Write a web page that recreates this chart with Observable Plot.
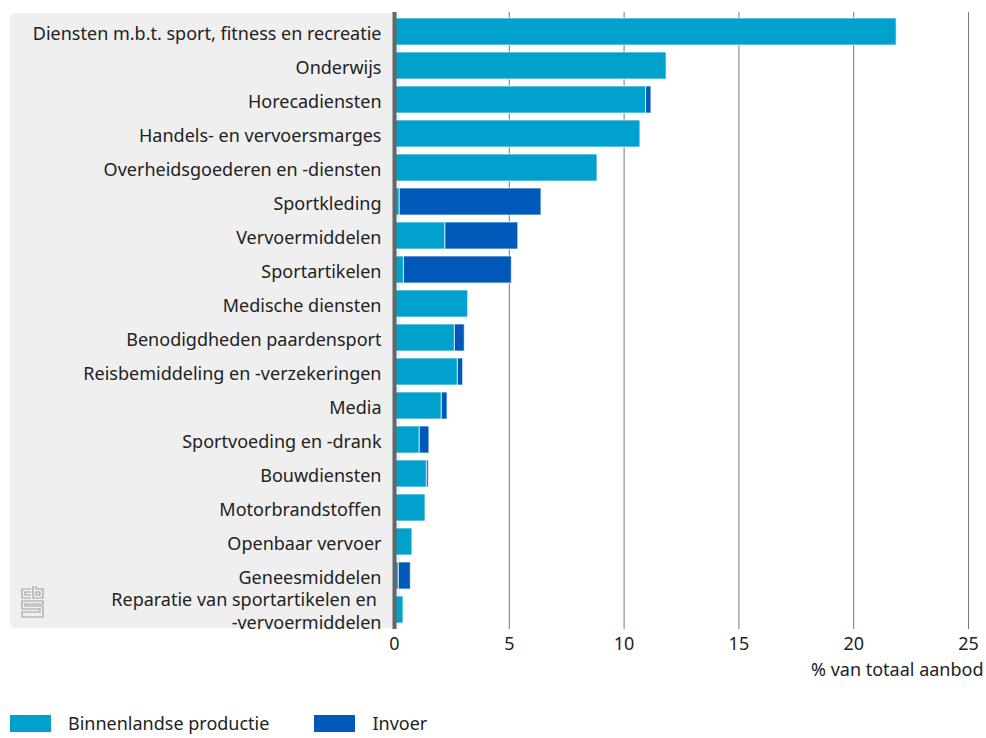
<!DOCTYPE html>
<html><head><meta charset="utf-8">
<script src="https://cdn.jsdelivr.net/npm/d3@7"></script>
<script src="https://cdn.jsdelivr.net/npm/@observablehq/plot@0.6"></script>
<style>
body{margin:0;background:#fff;font-family:"Noto Sans", sans-serif;color:#222;}
#chart{position:relative;width:986px;}
.legend{display:flex;align-items:center;margin-top:22px;font-size:18px;line-height:22px;}
.legend .sw{width:41px;height:17px;margin-left:10px;margin-right:17px;}
.legend .item{display:flex;align-items:center;}
</style></head>
<body>
<div id="chart"></div>
<div class="legend" id="legend"></div>
<script>
const categories = [
  "Diensten m.b.t. sport, fitness en recreatie",
  "Onderwijs",
  "Horecadiensten",
  "Handels- en vervoersmarges",
  "Overheidsgoederen en -diensten",
  "Sportkleding",
  "Vervoermiddelen",
  "Sportartikelen",
  "Medische diensten",
  "Benodigdheden paardensport",
  "Reisbemiddeling en -verzekeringen",
  "Media",
  "Sportvoeding en -drank",
  "Bouwdiensten",
  "Motorbrandstoffen",
  "Openbaar vervoer",
  "Geneesmiddelen",
  "Reparatie van sportartikelen en \n-vervoermiddelen"
];
const binnenlands = [21.87, 11.85, 10.96, 10.71, 8.84, 0.23, 2.22, 0.41, 3.21, 2.63, 2.76, 2.06, 1.10, 1.41, 1.35, 0.78, 0.19, 0.39];
const invoer      = [0,     0,     0.23,  0,     0,    6.17, 3.17, 4.70, 0,    0.43, 0.23, 0.25, 0.42, 0.08, 0,    0,    0.52, 0];
const seriesNames = ["Binnenlandse productie", "Invoer"];
const seriesColors = ["#00a1cd", "#0058b8"];
const xTicks = [0, 5, 10, 15, 20, 25];

const data = categories.flatMap((c, i) => [
  {cat: c, serie: seriesNames[0], v: binnenlands[i]},
  {cat: c, serie: seriesNames[1], v: invoer[i]}
]);

const chart = Plot.plot({
  width: 986, height: 690,
  marginLeft: 394, marginRight: 18, marginTop: 12, marginBottom: 61,
  style: {fontFamily: "'Noto Sans', sans-serif", fontSize: "18px", color: "#222", background: "transparent"},
  x: {domain: [0, 25]},
  y: {domain: categories, paddingInner: 0.21, paddingOuter: 0.06},
  color: {domain: seriesNames, range: seriesColors},
  marks: [
    Plot.gridX(xTicks.slice(1), {stroke: "#777", strokeOpacity: 1, strokeWidth: 1}),
    Plot.barX(data, {y: "cat", x: "v", fill: "serie", stroke: "white", strokeWidth: 1, strokeOpacity: 0.7, order: seriesNames}),
    Plot.ruleX([0], {stroke: "#666", strokeWidth: 4}),
    Plot.axisY({tickSize: 0, tickPadding: 13, label: null, lineHeight: 1.3, fontSize: 18}),
    Plot.axisX({ticks: xTicks, tickSize: 0, tickPadding: 8, label: "% van totaal aanbod", labelAnchor: "right", labelArrow: "none", labelOffset: 46, fontSize: 18})
  ]
});

// gray label panel behind the chart
const svg = d3.select(chart);
svg.insert("rect", ":first-child")
  .attr("x", 10).attr("y", 13).attr("width", 390).attr("height", 615)
  .attr("rx", 5).attr("fill", "#efefef");

// small logo in the panel
const logo = svg.insert("g", ":nth-child(2)")
  .attr("fill", "none").attr("stroke", "#a0a0a0").attr("stroke-width", 1.2);
[
  "M31,589H22V598H31", "M31,592H25V595H31",
  "M33,586V598H43V589H36", "M36,586V589", "M36,592H40V595H36Z",
  "M43,601H22V609H40V612H22V617H43V606H25V604H43Z"
].forEach(d => logo.append("path").attr("d", d));

document.getElementById("chart").appendChild(chart);

const leg = d3.select("#legend");
seriesNames.forEach((n, i) => {
  const it = leg.append("div").attr("class", "item");
  it.append("div").attr("class", "sw").style("background", seriesColors[i]);
  it.append("span").text(n).style("margin-right", i === 0 ? "35px" : "0");
});
</script>
</body></html>
